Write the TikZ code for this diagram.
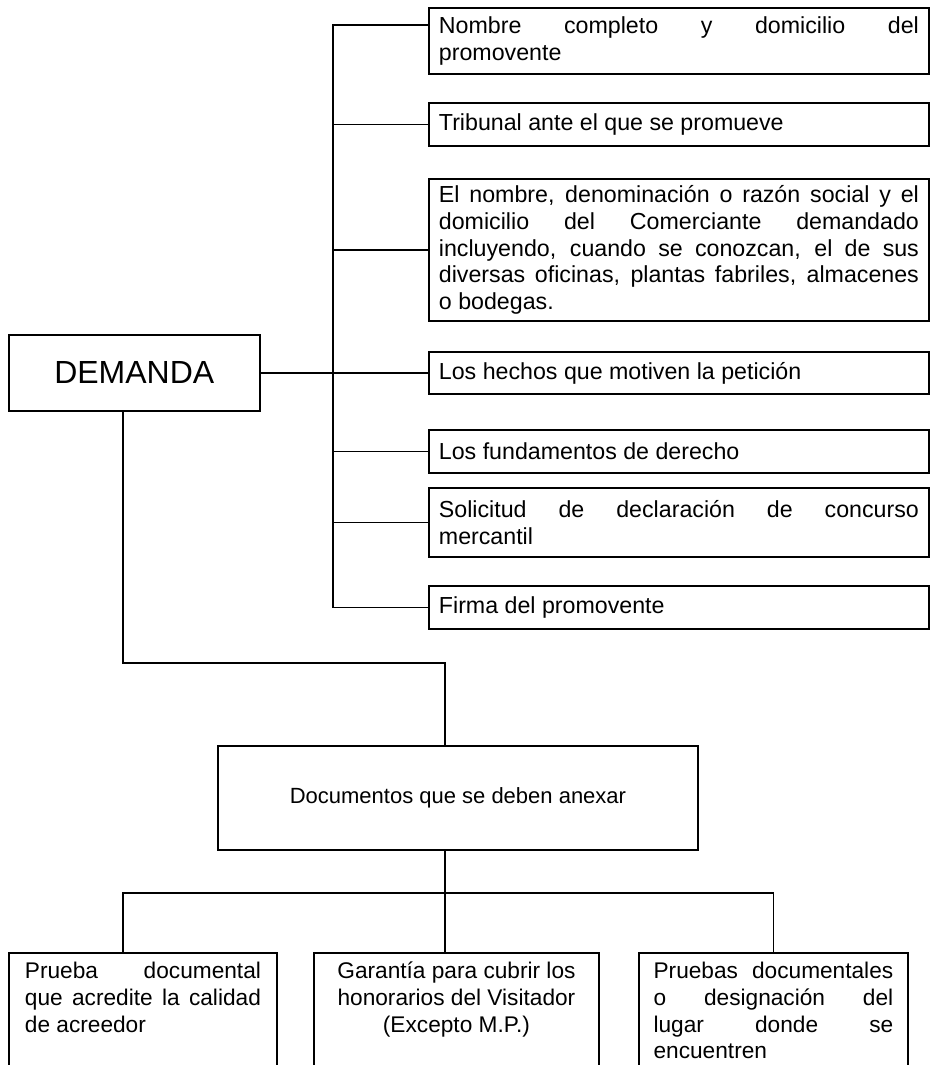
\documentclass[tikz,border=0pt]{standalone}
\usepackage{fontspec}
\setmainfont{Liberation Sans}
\usetikzlibrary{positioning, calc}

\hyphenpenalty=10000
\exhyphenpenalty=10000

% justified paragraph of fixed width
\newcommand{\textblock}[2]{\vbox{\hsize=#1\relax\everypar{}\parindent=0pt\leftskip=0pt\rightskip=0pt\parfillskip=0pt plus 1fil\relax #2\par}}
% same, hung from the top of a fixed height
\newcommand{\leafblock}[2]{\vbox to 75pt{\textblock{#1}{#2}\vfil}}

\begin{document}
\begin{tikzpicture}[
    x=0.75pt, y=-0.75pt,
    link/.style={line width=1.4pt},
    thin link/.style={line width=0.9pt},
    block/.style={draw, line width=1.4pt, font=\fontsize{17.4}{20}\selectfont, anchor=north west},
    item/.style={block, minimum width=375pt, inner xsep=7.5pt, inner ysep=2pt},
    leaf/.style={block, font=\fontsize{17}{20}\selectfont, inner xsep=12pt, inner ysep=7pt}
]
    \useasboundingbox (0, 0) rectangle (930, 1065);
    \clip (0, 0) rectangle (930, 1065);

    % requisitos de la demanda
    \foreach \top/\hgt/\txt [count=\i] in {
        7/66/{Nombre completo y domicilio del\linebreak promovente},
        102/43/{Tribunal ante el que se promueve},
        178/142/{El nombre, denominación o razón social y el\linebreak domicilio del Comerciante demandado\linebreak incluyendo, cuando se conozcan, el de sus\linebreak diversas oficinas, plantas fabriles, almacenes\linebreak o bodegas.},
        351/42/{Los hechos que motiven la petición},
        429/43/{Los fundamentos de derecho},
        487/69/{Solicitud de declaración de concurso\linebreak mercantil},
        585/43/{Firma del promovente}} {
        \node [item, minimum height=\hgt*0.75pt] (b\i) at (428, \top) {\textblock{360pt}{\txt}};
    }

    \node [block, font=\fontsize{24}{28}\selectfont, minimum width=188pt, minimum height=57pt] (dem) at (8, 334) {DEMANDA};
    \node [block, font=\fontsize{16.5}{19}\selectfont, minimum width=360pt, minimum height=78pt] (docs) at (217, 745) {Documentos que se deben anexar};

    % anexos
    \node [leaf] (l1) at (8, 952) {\leafblock{177pt}{Prueba documental\linebreak que acredite la calidad\linebreak de acreedor}};
    \node [leaf, inner xsep=11pt] (l2) at (313, 952) {\leafblock{191.75pt}{\centering Garantía para cubrir los\\ honorarios del Visitador\\ (Excepto M.P.)}};
    \node [leaf, inner xsep=11pt] (l3) at (638, 952) {\leafblock{179.75pt}{Pruebas documentales\linebreak o designación del\linebreak lugar donde se\linebreak encuentren}};

    \coordinate (trunk) at (333, 0);
    \coordinate (drop) at (123, 893);
    \coordinate (bend) at (445, 663);
    \coordinate (bus) at (445, 893);

    \draw [link] ($(b1.north west) + (0, 18)$) -| (trunk |- b7.west) -- (b7.west);
    \foreach \i in {2, ..., 6} {
        \draw [link] (trunk |- b\i.west) -- (b\i.west);
    }
    \draw [link] (dem.east) -- (b4.west);

    \draw [thin link] (dem.south -| drop) |- (bend) -- (docs.north -| bend);
    \draw [link] (docs.south -| bus) -- (l2.north -| bus);
    \draw [link] (l1.north -| drop) |- (bus) -| (l3.north);
\end{tikzpicture}
\end{document}
